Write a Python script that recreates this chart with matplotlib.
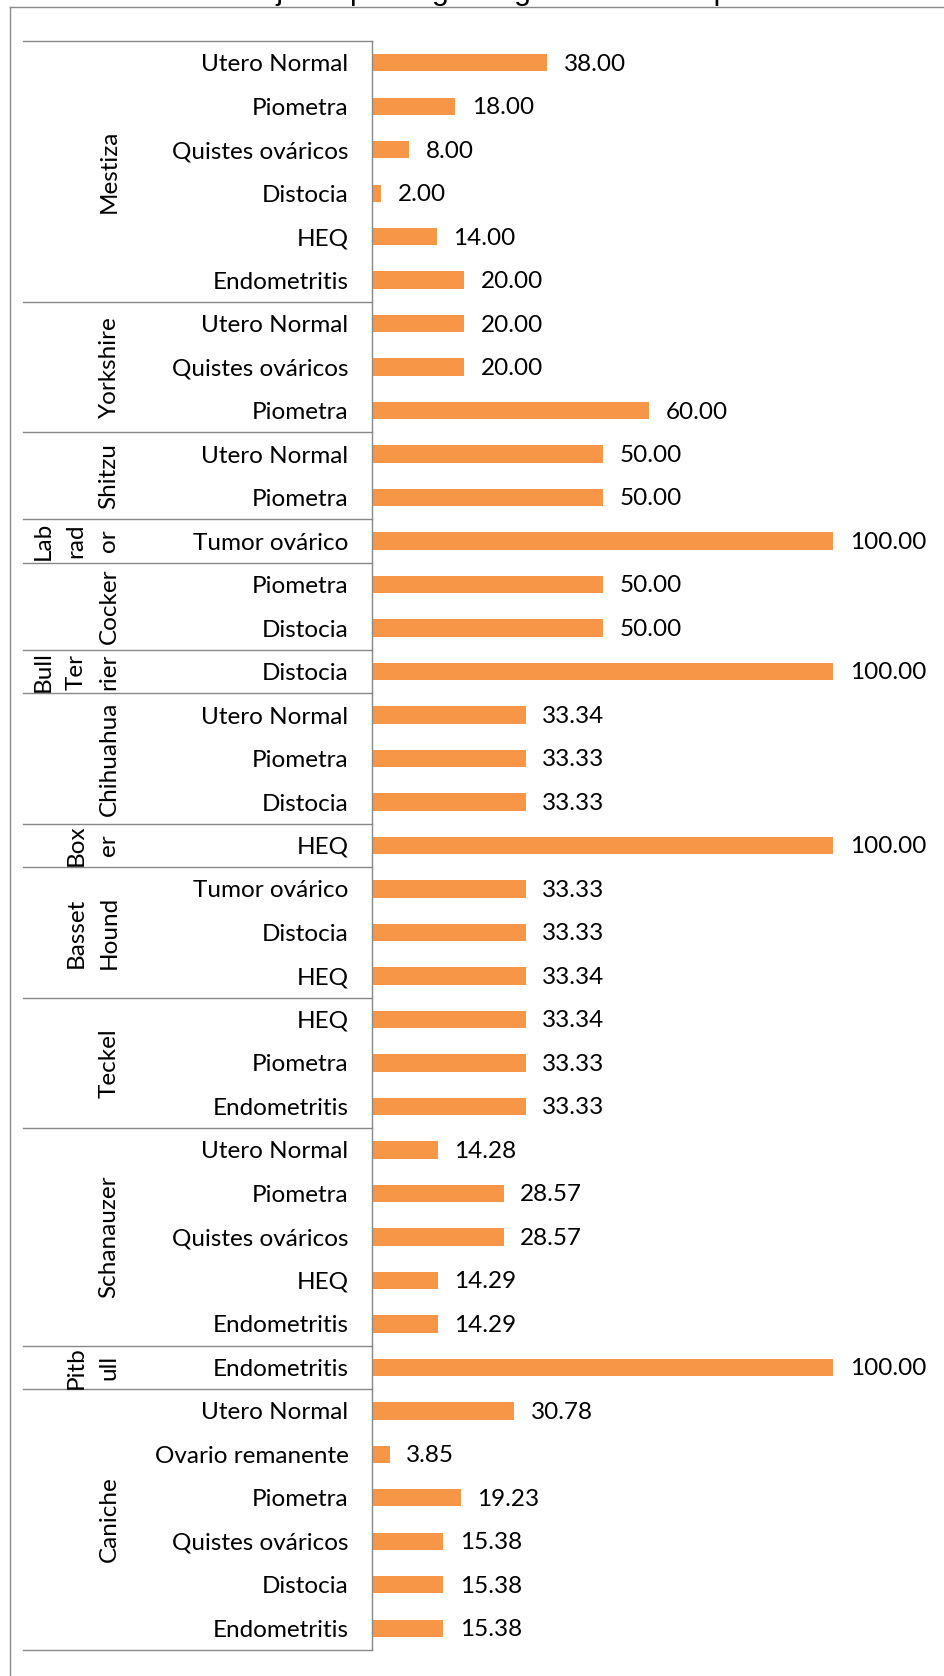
import matplotlib
matplotlib.use('Agg')
import matplotlib.pyplot as plt
from matplotlib.lines import Line2D

# datos: porcentaje de patologia por raza
razas = ['Mestiza', 'Yorkshire', 'Shitzu', 'Labrador', 'Cocker', 'Bull Terrier',
         'Chihuahua', 'Boxer', 'Basset Hound', 'Teckel', 'Schanauzer', 'Pitbull', 'Caniche']
# como aparece cortado en el eje (texto envuelto)
razas_eje = ['Mestiza', 'Yorkshire', 'Shitzu', 'Lab\nrad\nor', 'Cocker', 'Bull\nTer\nrier',
             'Chihuahua', 'Box\ner', 'Basset\nHound', 'Teckel', 'Schanauzer', 'Pitb\null', 'Caniche']
n_por_raza = [6, 3, 2, 1, 2, 1, 3, 1, 3, 3, 5, 1, 6]

patologias = [
    'Utero Normal', 'Piometra', 'Quistes ováricos', 'Distocia', 'HEQ', 'Endometritis',
    'Utero Normal', 'Quistes ováricos', 'Piometra',
    'Utero Normal', 'Piometra',
    'Tumor ovárico',
    'Piometra', 'Distocia',
    'Distocia',
    'Utero Normal', 'Piometra', 'Distocia',
    'HEQ',
    'Tumor ovárico', 'Distocia', 'HEQ',
    'HEQ', 'Piometra', 'Endometritis',
    'Utero Normal', 'Piometra', 'Quistes ováricos', 'HEQ', 'Endometritis',
    'Endometritis',
    'Utero Normal', 'Ovario remanente', 'Piometra', 'Quistes ováricos', 'Distocia', 'Endometritis',
]
porcentajes = [
    38.00, 18.00, 8.00, 2.00, 14.00, 20.00,
    20.00, 20.00, 60.00,
    50.00, 50.00,
    100.00,
    50.00, 50.00,
    100.00,
    33.34, 33.33, 33.33,
    100.00,
    33.33, 33.33, 33.34,
    33.34, 33.33, 33.33,
    14.28, 28.57, 28.57, 14.29, 14.29,
    100.00,
    30.78, 3.85, 19.23, 15.38, 15.38, 15.38,
]

titulo = 'Gráfico 8. Porcentaje de patología según la raza en perras del estudio'

W, H = 945, 1676
naranja = '#F79646'
gris = '#878787'
fuente = ['Lato', 'DejaVu Sans']
fs = 17.5

fig = plt.figure(figsize=(W / 100, H / 100), dpi=100)

# marco del area del grafico (sale por la derecha y por abajo)
fig.add_artist(Line2D([10 / W, 1.0], [1 - 7 / H, 1 - 7 / H], color='#8a8a8a', lw=1.0))
fig.add_artist(Line2D([10 / W, 10 / W], [0.0, 1 - 7 / H], color='#8a8a8a', lw=1.0))

# titulo casi fuera de la imagen
fig.text(17 / W, 1 - 0.5 / H, titulo, fontsize=21.7, family='Liberation Sans',
         va='baseline', ha='left', color='black')

x0, x1, ytop, ybot = 372, 833, 41, 1650
ax = fig.add_axes([x0 / W, (H - ybot) / H, (x1 - x0) / W, (ybot - ytop) / H])

n = len(porcentajes)
filas = list(range(n))
ax.barh(filas, porcentajes, height=0.40, color=naranja)
ax.set_xlim(0, 100)
ax.set_ylim(n - 0.5, -0.5)

for y, v in zip(filas, porcentajes):
    ax.annotate(f'{v:.2f}', (v, y), xytext=(12, -1), textcoords='offset points',
                ha='left', va='center', fontsize=fs, family=fuente, color='black')

ax.set_yticks(filas)
ax.set_yticklabels(patologias, fontsize=fs, family=fuente)
ax.tick_params(axis='y', length=0, pad=17)
ax.set_xticks([])

for s in ['top', 'right', 'bottom']:
    ax.spines[s].set_visible(False)
ax.spines['left'].set_color(gris)
ax.spines['left'].set_linewidth(1.0)

# eje de categorias de dos niveles
tr = ax.get_yaxis_transform()
def px(x):
    return (x - x0) / (x1 - x0)

inicio = 0
ax.plot([px(23), 0], [-0.5, -0.5], transform=tr, color=gris, lw=1.0, clip_on=False)
for nombre, k in zip(razas_eje, n_por_raza):
    centro = inicio + (k - 1) / 2
    lineas = nombre.split('\n')
    for j, texto in enumerate(lineas):
        xl = 109 - 33 * (len(lineas) - 1 - j)
        ax.text(px(xl), centro, texto, transform=tr, rotation=90, ha='center', va='center',
                fontsize=fs, family=fuente, color='black')
    inicio += k
    ax.plot([px(23), 0], [inicio - 0.5, inicio - 0.5], transform=tr, color=gris, lw=1.0,
            clip_on=False)

fig.savefig('out.png', dpi=100)
